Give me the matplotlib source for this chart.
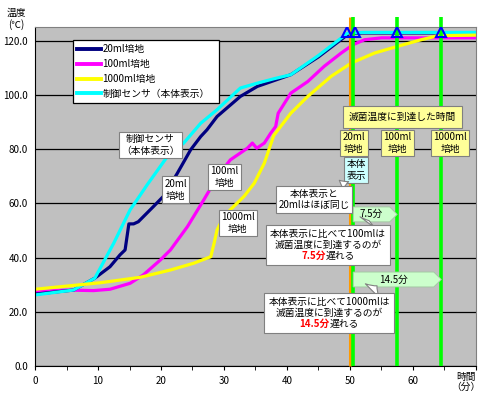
import numpy as np
import matplotlib
matplotlib.use("Agg")
import matplotlib.pyplot as plt
from matplotlib.patches import Polygon
from matplotlib.offsetbox import TextArea, VPacker, HPacker, AnnotationBbox

plt.rcParams['font.family'] = ['Noto Sans CJK JP', 'DejaVu Sans']

# 時間(分) と 温度(℃)
t_sensor = [0, 6.1, 9.5, 12.5, 15.1, 16.2, 17.8, 21.0, 23.6, 26.3, 28.9, 32.6, 35.3, 37.9, 40.6, 45.0, 49.6, 52.0, 60.0, 70.0]
v_sensor = [26.2, 28.0, 32.4, 45.3, 57.6, 61.3, 66.8, 77.2, 82.2, 89.5, 94.5, 102.5, 104.3, 105.9, 107.4, 114.5, 122.7, 123.0, 123.0, 123.0]

t_20ml = [0, 6.1, 9.5, 11.9, 13.5, 14.3, 14.9, 15.65, 16.4, 18.8, 20.4, 22.6, 24.7, 26.3, 27.3, 28.9, 32.6, 35.3, 40.6, 45.0, 49.8, 52.0, 70.0]
v_20ml = [26.5, 28.0, 32.4, 36.6, 41.0, 42.8, 52.4, 52.4, 53.2, 58.8, 62.6, 71.1, 79.7, 84.6, 87.1, 92.0, 99.4, 103.1, 107.4, 114.0, 122.5, 122.8, 122.8]

t_100ml = [0, 5.0, 9.3, 11.9, 15.1, 17.2, 19.9, 21.5, 24.2, 26.8, 29.0, 31.0, 33.7, 34.5, 35.2, 36.4, 37.4, 38.2, 38.6, 40.6, 43.3, 45.9, 48.6, 50.5, 52.3, 55.0, 70.0]
v_100ml = [27.4, 28.0, 27.8, 28.3, 30.5, 33.6, 39.1, 42.8, 51.4, 61.3, 70.0, 76.0, 80.3, 82.2, 80.3, 82.2, 85.8, 88.3, 93.2, 100.6, 104.9, 110.5, 115.4, 118.5, 120.3, 121.0, 121.0]

t_1000ml = [0, 10.35, 16.7, 21.5, 25.2, 27.9, 28.4, 28.9, 30.0, 31.0, 33.2, 34.8, 36.4, 37.9, 40.6, 43.3, 47.0, 50.2, 53.9, 57.6, 61.3, 64.0, 70.0]
v_1000ml = [28.3, 30.7, 32.7, 35.4, 37.9, 40.3, 45.0, 50.2, 55.1, 57.6, 62.6, 67.4, 74.8, 85.0, 93.2, 99.4, 106.8, 111.7, 115.4, 117.9, 120.3, 121.8, 122.0]

series_labels = ['20ml培地', '100ml培地', '1000ml培地', '制御センサ（本体表示）']

# 滅菌温度到達時間
reach_sensor = 50.0
reach_times = [50.4, 57.5, 64.5]
marker_t = [49.6, 50.8, 57.5, 64.5]
marker_v = [123.2, 123.2, 123.2, 123.2]
delays = [7.5, 14.5]

fig = plt.figure(figsize=(4.8, 3.95), dpi=100)
ax = fig.add_axes([35 / 480, 1 - 366 / 395, 441 / 480, 339 / 395])
ax.set_facecolor('#C0C0C0')
ax.set_xlim(0, 70)
ax.set_ylim(0, 125)

lw = 2.3
l100, = ax.plot(t_100ml, v_100ml, color='#FF00FF', lw=lw, zorder=2)
l20, = ax.plot(t_20ml, v_20ml, color='#000080', lw=lw, zorder=2)
lsen, = ax.plot(t_sensor, v_sensor, color='#00FFFF', lw=lw, zorder=2)
l1000, = ax.plot(t_1000ml, v_1000ml, color='#FFFF00', lw=lw, zorder=2)

# 到達時間の縦線
ax.vlines([reach_sensor], 0, 128.8, colors='#FF9900', lw=2.2, clip_on=False, zorder=3)
ax.vlines(reach_times, 0, 128.8, colors='#00FF00', lw=2.6, clip_on=False, zorder=3)
ax.plot(marker_t, marker_v, ls='none', marker='^', ms=7, mfc='none', mec='#0000FF', mew=1.5, zorder=4)

# 軸
ax.set_yticks(np.arange(0, 121, 20))
ax.set_yticklabels([f'{v:.1f}' for v in np.arange(0, 121, 20)])
ax.set_xticks(range(0, 71, 10))
ax.set_xticklabels([str(v) for v in range(0, 61, 10)] + [''])
ax.set_xticks(range(5, 70, 10), minor=True)
ax.tick_params(axis='y', length=0, pad=5, labelsize=7)
ax.tick_params(axis='x', which='both', length=3, direction='out', pad=4, labelsize=7)
ax.yaxis.grid(True, color='black', lw=0.9)
ax.set_axisbelow(True)
for s in ['top', 'right']:
    ax.spines[s].set_color('#808080')
ax.spines['left'].set_color('black')
ax.spines['bottom'].set_color('black')

fig.text(16 / 480, 1 - 19 / 395, '温度\n(℃)', ha='center', va='center', fontsize=7, linespacing=1.1)
fig.text(466 / 480, 1 - 382 / 395, '時間\n（分）', ha='center', va='center', fontsize=7, linespacing=1.1)

leg = ax.legend([l20, l100, l1000, lsen], series_labels, loc='upper left',
                bbox_to_anchor=(0.086, 0.776, 0.331, 0.186), mode='expand',
                fontsize=7, frameon=True, fancybox=False, framealpha=1,
                edgecolor='black', handlelength=2.4, handletextpad=0.2,
                labelspacing=0.5, borderaxespad=0, borderpad=0.45)
leg.get_frame().set_linewidth(0.9)
for h in leg.get_lines():
    h.set_linewidth(2.8)
leg.set_zorder(6)

white = dict(boxstyle='square,pad=0.25', fc='white', ec='#808080', lw=0.8)
yellow = dict(boxstyle='square,pad=0.25', fc='#FFFF99', ec='#808080', lw=0.8)
cyanbox = dict(boxstyle='square,pad=0.25', fc='#CCFFFF', ec='#808080', lw=0.8)
fs = 7
wedge = dict(arrowstyle='wedge,tail_width=1.0,shrink_factor=0.4', fc='white', ec='#808080', lw=0.8)

ax.text(18.3, 81.5, '制御センサ\n（本体表示）', ha='center', va='center', fontsize=fs, bbox=white, zorder=6, linespacing=1.2)
ax.text(22.3, 65.0, '20ml\n培地', ha='center', va='center', fontsize=fs, bbox=white, zorder=6, linespacing=1.2)
ax.text(30.1, 69.7, '100ml\n培地', ha='center', va='center', fontsize=fs, bbox=white, zorder=6, linespacing=1.2)
ax.text(32.2, 52.8, '1000ml\n培地', ha='center', va='center', fontsize=fs, bbox=white, zorder=6, linespacing=1.2)

ax.text(58.3, 91.9, '滅菌温度に到達した時間', ha='center', va='center', fontsize=fs,
        bbox=dict(boxstyle='square,pad=0.6', fc='#FFFF99', ec='#808080', lw=0.8), zorder=6)
for x, lab in zip([50.6, 57.5, 65.9], ['20ml\n培地', '100ml\n培地', '1000ml\n培地']):
    ax.text(x, 82.3, lab, ha='center', va='center', fontsize=fs, bbox=yellow, zorder=6, linespacing=1.2)
ax.text(51.0, 72.3, '本体\n表示', ha='center', va='center', fontsize=fs, bbox=cyanbox, zorder=6, linespacing=1.2)

ax.annotate('本体表示と\n20mlはほぼ同じ', xy=(50.2, 68.4), xytext=(44.3, 61.4),
            ha='center', va='center', fontsize=fs, bbox=white, zorder=7, linespacing=1.2,
            arrowprops=dict(wedge, relpos=(0.75, 1.0)))

# 遅れの矢印
for d, yc in zip(delays, [55.9, 31.9]):
    x0 = reach_times[0] + 0.1
    x1 = reach_sensor + d
    h = 2.75
    pts = [(x0, yc - h), (x1 - 1.2, yc - h), (x1, yc), (x1 - 1.2, yc + h), (x0, yc + h)]
    ax.add_patch(Polygon(pts, closed=True, fc='#CCFFCC', ec='#A0C8A0', lw=0.6, zorder=5))
    ax.text((x0 + x1 - 1.2) / 2, yc, f'{d}分', ha='center', va='center', fontsize=fs, zorder=6)


def callout(vol, d, xybox, xy):
    tp = dict(fontsize=fs, color='black')
    line1 = TextArea(f'本体表示に比べて{vol}は', textprops=tp)
    line2 = TextArea('滅菌温度に到達するのが', textprops=tp)
    red = TextArea(f'{d}分', textprops=dict(fontsize=fs, color='#FF0000', fontweight='bold'))
    rest = TextArea('遅れる', textprops=tp)
    line3 = HPacker(children=[red, rest], align='center', pad=0, sep=0)
    box = VPacker(children=[line1, line2, line3], align='center', pad=0, sep=0.5)
    ab = AnnotationBbox(box, xy, xybox=xybox, xycoords='data', boxcoords='data',
                        pad=0.25, bboxprops=dict(boxstyle='square', fc='white', ec='#808080', lw=0.8),
                        arrowprops=dict(wedge, relpos=(0.8, 1.0)), zorder=7)
    ax.add_artist(ab)


callout('100ml', delays[0], (46.5, 44.6), (53.3, 54.4))
callout('1000ml', delays[1], (46.7, 19.6), (54.6, 30.3))

fig.savefig('out.png', dpi=100)
